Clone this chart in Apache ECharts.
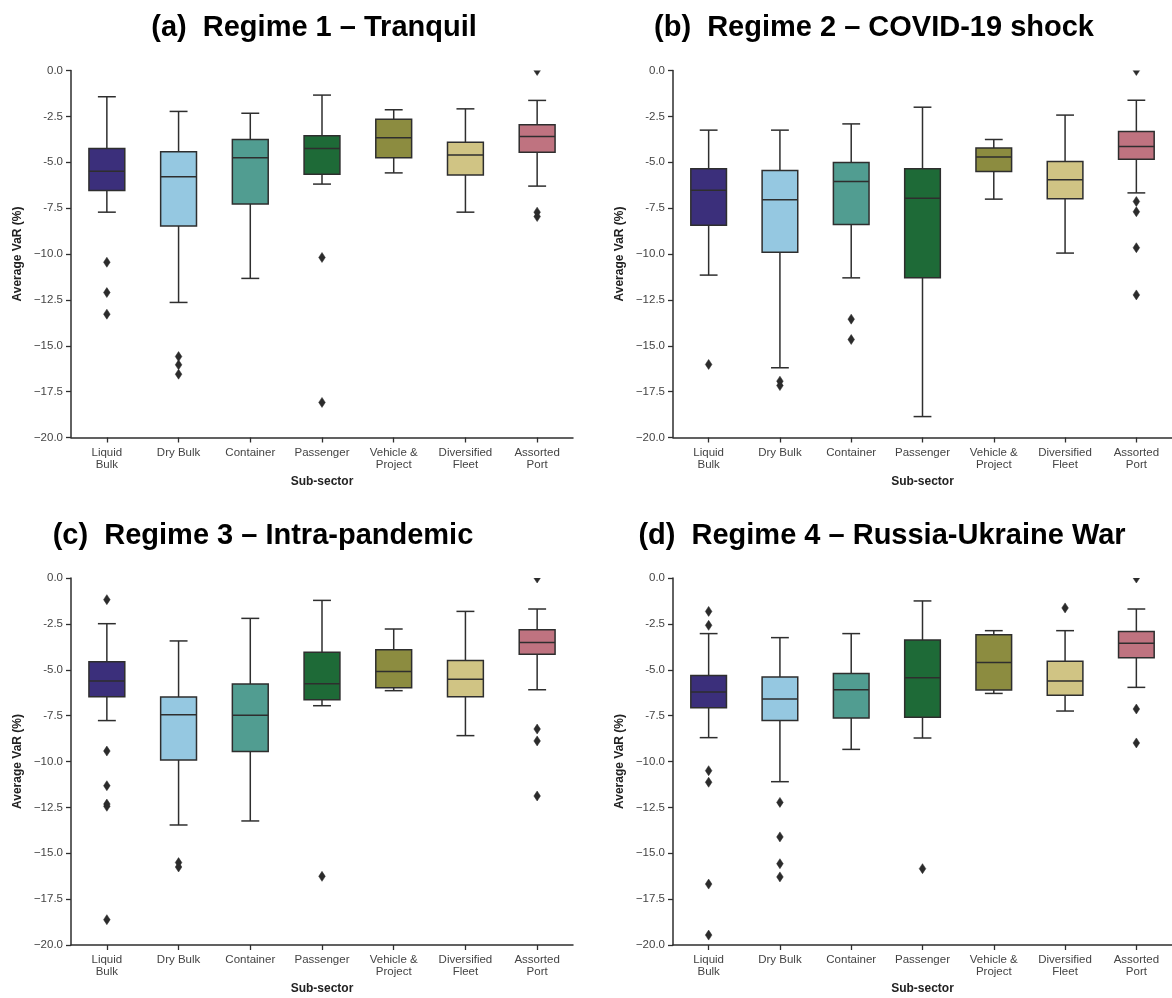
<!DOCTYPE html>
<html><head><meta charset="utf-8">
<script src="https://cdn.jsdelivr.net/npm/echarts@6/dist/echarts.min.js"></script>
<style>html,body{margin:0;padding:0;background:#fff}#c{width:1172px;height:998px}</style>
</head><body><div id="c"></div>
<script>
// ---------- DATA ----------
const categories = ['Liquid\nBulk', 'Dry Bulk', 'Container', 'Passenger', 'Vehicle &\nProject', 'Diversified\nFleet', 'Assorted\nPort'];
const panelTitles = ['(a)  Regime 1 \u2013 Tranquil', '(b)  Regime 2 \u2013 COVID-19 shock', '(c)  Regime 3 \u2013 Intra-pandemic', '(d)  Regime 4 \u2013 Russia-Ukraine War'];
const yTickValues = [0, -2.5, -5, -7.5, -10, -12.5, -15, -17.5, -20];
const xAxisTitle = 'Sub-sector';
const yAxisTitle = 'Average VaR (%)';

// box stats per category: [lower whisker, Q1, median, Q3, upper whisker]
const regime1Boxes = [
  [-7.72, -6.54, -5.49, -4.25, -1.43],
  [-12.64, -8.47, -5.79, -4.43, -2.23],
  [-11.33, -7.27, -4.76, -3.76, -2.33],
  [-6.19, -5.65, -4.25, -3.56, -1.34],
  [-5.58, -4.76, -3.67, -2.65, -2.14],
  [-7.72, -5.69, -4.61, -3.91, -2.09],
  [-6.30, -4.45, -3.60, -2.96, -1.63]
];
const regime1Outliers = [[0, -10.45], [0, -12.10], [0, -13.28], [1, -15.59], [1, -16.04], [1, -16.55], [3, -10.19], [3, -18.09], [6, 0.0], [6, -7.72], [6, -7.96]];

const regime2Boxes = [
  [-11.15, -8.43, -6.52, -5.36, -3.25],
  [-16.20, -9.90, -7.05, -5.45, -3.25],
  [-11.30, -8.39, -6.05, -5.01, -2.91],
  [-18.86, -11.30, -6.96, -5.36, -2.00],
  [-7.01, -5.50, -4.72, -4.23, -3.76],
  [-9.95, -6.99, -5.96, -4.96, -2.43],
  [-6.67, -4.83, -4.14, -3.32, -1.62]
];
const regime2Outliers = [[0, -16.02], [1, -16.93], [1, -17.17], [2, -13.55], [2, -14.66], [6, 0.0], [6, -7.14], [6, -7.70], [6, -9.66], [6, -12.23]];

const regime3Boxes = [
  [-7.77, -6.47, -5.61, -4.56, -2.49],
  [-13.46, -9.92, -7.45, -6.49, -3.43],
  [-13.24, -9.45, -7.48, -5.78, -2.20],
  [-6.96, -6.63, -5.76, -4.05, -1.22],
  [-6.14, -5.98, -5.09, -3.91, -2.78],
  [-8.59, -6.47, -5.52, -4.49, -1.82],
  [-6.09, -4.16, -3.51, -2.82, -1.69]
];
const regime3Outliers = [[0, -1.18], [0, -9.43], [0, -11.32], [0, -12.32], [0, -12.44], [0, -18.62], [1, -15.51], [1, -15.75], [3, -16.26], [6, 0.0], [6, -8.23], [6, -8.88], [6, -11.88]];

const regime4Boxes = [
  [-8.70, -7.07, -6.21, -5.32, -3.03],
  [-11.10, -7.76, -6.59, -5.40, -3.25],
  [-9.34, -7.63, -6.09, -5.20, -3.03],
  [-8.72, -7.59, -5.43, -3.38, -1.25],
  [-6.29, -6.10, -4.61, -3.09, -2.87],
  [-7.25, -6.39, -5.61, -4.54, -2.87],
  [-5.96, -4.34, -3.56, -2.92, -1.69]
];
const regime4Outliers = [[0, -1.82], [0, -2.58], [0, -10.50], [0, -11.13], [0, -16.68], [0, -19.46], [1, -12.23], [1, -14.11], [1, -15.57], [1, -16.29], [3, -15.84], [5, -1.63], [6, 0.0], [6, -7.14], [6, -8.99]];

// ---------- STYLE ----------
const boxColors = ['#3b2f7b', '#95c8e1', '#519d91', '#1e6a37', '#8c8c40', '#d0c484', '#bf7380'];
const lineColor = '#2e2e2e';
const FONT = '"Liberation Sans", Arial, sans-serif';

const panels = [
  {boxes: regime1Boxes, outliers: regime1Outliers, left: 71, top: 70.5, title: panelTitles[0], tx: 314, ty: 13},
  {boxes: regime2Boxes, outliers: regime2Outliers, left: 673, top: 70.5, title: panelTitles[1], tx: 874, ty: 13},
  {boxes: regime3Boxes, outliers: regime3Outliers, left: 71, top: 578, title: panelTitles[2], tx: 263, ty: 521},
  {boxes: regime4Boxes, outliers: regime4Outliers, left: 673, top: 578, title: panelTitles[3], tx: 882, ty: 521}
];

function fmtTick(v) {
  const s = Math.abs(v).toFixed(1);
  if (v === 0) return '0.0';
  return (v <= -10 ? '\u2212' : '-') + s;
}

function renderBox(params, api) {
  const ci = api.value(0);
  const lo = api.coord([ci, api.value(1)]);
  const q1 = api.coord([ci, api.value(2)]);
  const md = api.coord([ci, api.value(3)]);
  const q3 = api.coord([ci, api.value(4)]);
  const hi = api.coord([ci, api.value(5)]);
  const band = api.size([1, 0])[0];
  const bw = band * 0.5, cw = band * 0.25;
  const x = md[0];
  const ls = {stroke: lineColor, lineWidth: 1.5, fill: null};
  return {type: 'group', children: [
    {type: 'line', shape: {x1: x, y1: hi[1], x2: x, y2: q3[1]}, style: ls},
    {type: 'line', shape: {x1: x, y1: q1[1], x2: x, y2: lo[1]}, style: ls},
    {type: 'line', shape: {x1: x - cw / 2, y1: hi[1], x2: x + cw / 2, y2: hi[1]}, style: ls},
    {type: 'line', shape: {x1: x - cw / 2, y1: lo[1], x2: x + cw / 2, y2: lo[1]}, style: ls},
    {type: 'rect', shape: {x: x - bw / 2, y: q3[1], width: bw, height: q1[1] - q3[1]},
      style: {fill: boxColors[ci], stroke: lineColor, lineWidth: 1.5}},
    {type: 'line', shape: {x1: x - bw / 2, y1: md[1], x2: x + bw / 2, y2: md[1]}, style: ls}
  ]};
}

function renderOutlier(params, api) {
  const p = api.coord([api.value(0), api.value(1)]);
  const hw = 3.3, hh = 5;
  return {type: 'polygon', shape: {points: [[p[0], p[1] - hh], [p[0] + hw, p[1]], [p[0], p[1] + hh], [p[0] - hw, p[1]]]},
    style: {fill: '#2b2b2b', stroke: '#2b2b2b', lineWidth: 0.5}};
}

const grid = [], xAxis = [], yAxis = [], series = [], title = [];
panels.forEach((p, i) => {
  grid.push({left: p.left, top: p.top, width: 502, height: 367, containLabel: false});
  xAxis.push({
    type: 'category', gridIndex: i, data: categories, boundaryGap: true, position: 'bottom',
    axisLine: {show: true, onZero: false, lineStyle: {color: lineColor, width: 1.5}},
    axisTick: {show: true, alignWithLabel: true, length: 5, lineStyle: {color: lineColor, width: 1.3}},
    axisLabel: {interval: 0, color: '#444', fontSize: 11.5, lineHeight: 12, margin: 9, fontFamily: FONT},
    splitLine: {show: false},
    name: xAxisTitle, nameLocation: 'middle', nameGap: 38,
    nameTextStyle: {fontWeight: 'bold', fontSize: 12, color: '#222', fontFamily: FONT}
  });
  yAxis.push({
    type: 'value', gridIndex: i, min: -20, max: 0, interval: 2.5,
    axisLine: {show: true, onZero: false, lineStyle: {color: lineColor, width: 1.5}},
    axisTick: {show: true, length: 5, lineStyle: {color: lineColor, width: 1.3}},
    axisLabel: {color: '#444', fontSize: 11.5, margin: 8, fontFamily: FONT,
      formatter: v => yTickValues.indexOf(v) >= 0 ? fmtTick(v) : ''},
    splitLine: {show: false},
    name: yAxisTitle, nameLocation: 'middle', nameGap: 47,
    nameTextStyle: {fontWeight: 'bold', fontSize: 12, color: '#222', fontFamily: FONT}
  });
  series.push({
    type: 'custom', xAxisIndex: i, yAxisIndex: i, renderItem: renderBox,
    data: p.boxes.map((b, ci) => [ci].concat(b)), silent: true, z: 2
  });
  series.push({
    type: 'custom', xAxisIndex: i, yAxisIndex: i, renderItem: renderOutlier, clip: true,
    data: p.outliers, silent: true, z: 3
  });
  title.push({
    text: p.title, left: p.tx, top: p.ty, textAlign: 'center', padding: 0,
    textStyle: {fontSize: 29, fontWeight: 'bold', color: '#000', fontFamily: FONT}
  });
});

const chart = echarts.init(document.getElementById('c'), null, {renderer: 'canvas'});
chart.setOption({animation: false, backgroundColor: '#fff', title, grid, xAxis, yAxis, series});
</script>
</body></html>
